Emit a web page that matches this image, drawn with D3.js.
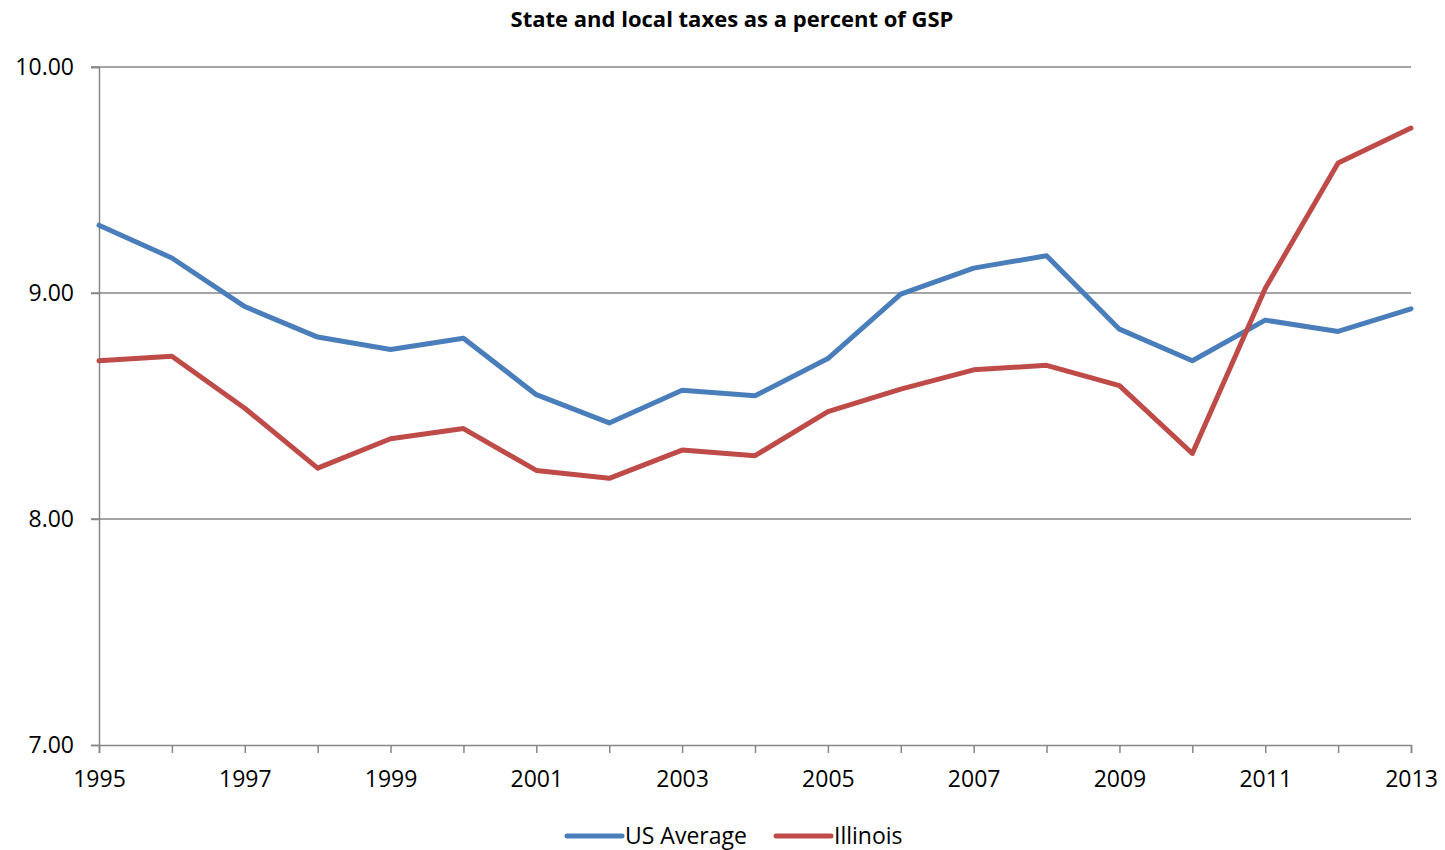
<!DOCTYPE html>
<html>
<head>
<meta charset="utf-8">
<title>State and local taxes as a percent of GSP</title>
<script src="https://d3js.org/d3.v7.min.js"></script>
<style>
  body { margin: 0; background: #fff; }
  text { font-family: "Open Sans", Lato, sans-serif; fill: #000; }
</style>
</head>
<body>
<div id="chart"></div>
<script>
// data
const years = d3.range(1995, 2014);
const usAverage = [9.30, 9.155, 8.94, 8.805, 8.75, 8.80, 8.55, 8.425, 8.57, 8.545,
                   8.71, 8.995, 9.11, 9.165, 8.84, 8.70, 8.88, 8.83, 8.93];
const illinois = [8.70, 8.72, 8.49, 8.225, 8.355, 8.40, 8.215, 8.18, 8.305, 8.28,
                  8.475, 8.575, 8.66, 8.68, 8.59, 8.29, 9.02, 9.575, 9.73];
const yTicks = [7, 8, 9, 10];
const xLabels = d3.range(1995, 2014, 2);

const series = [
  { name: "US Average", values: usAverage, color: "#4A7EBB" },
  { name: "Illinois", values: illinois, color: "#BE4B48" }
];

const width = 1445, height = 850;
const margin = { top: 67, right: 34, bottom: 105, left: 99 };

const svg = d3.select("#chart").append("svg")
  .attr("width", width)
  .attr("height", height);

const x = d3.scaleLinear()
  .domain([1995, 2013])
  .range([margin.left, width - margin.right]);

const y = d3.scaleLinear()
  .domain([7, 10])
  .range([height - margin.bottom, margin.top]);

// title
svg.append("text")
  .attr("x", 732)
  .attr("y", 27)
  .attr("text-anchor", "middle")
  .style("font-size", "22px")
  .style("font-weight", "bold")
  .text("State and local taxes as a percent of GSP");

// gridlines
svg.append("g")
  .selectAll("line")
  .data(yTicks.slice(1))
  .join("line")
  .attr("x1", margin.left - 8)
  .attr("x2", width - margin.right)
  .attr("y1", d => y(d))
  .attr("y2", d => y(d))
  .attr("stroke", "#868686")
  .attr("stroke-width", 1.3);

// y axis
const yAxis = svg.append("g")
  .attr("transform", `translate(${margin.left},0)`)
  .call(d3.axisLeft(y).tickValues(yTicks).tickFormat(d3.format(".2f")).tickSize(8).tickPadding(17));

// x axis
const xAxis = svg.append("g")
  .attr("transform", `translate(0,${height - margin.bottom})`)
  .call(d3.axisBottom(x).tickValues(years).tickFormat(d => xLabels.includes(d) ? d : "").tickSize(8).tickPadding(18));

[yAxis, xAxis].forEach(g => {
  g.select(".domain").attr("stroke", "#868686").attr("stroke-width", 1.5);
  g.selectAll(".tick line").attr("stroke", "#868686").attr("stroke-width", 1.5);
  g.selectAll(".tick text").style("font-size", "23px").attr("fill", "#000");
});

// lines
const line = d3.line()
  .x((d, i) => x(years[i]))
  .y(d => y(d));

svg.append("g")
  .selectAll("path")
  .data(series)
  .join("path")
  .attr("d", d => line(d.values))
  .attr("fill", "none")
  .attr("stroke", d => d.color)
  .attr("stroke-width", 5)
  .attr("stroke-linejoin", "round")
  .attr("stroke-linecap", "round");

// legend
const legendPos = [567, 776];
const legend = svg.append("g")
  .selectAll("g")
  .data(series)
  .join("g")
  .attr("transform", (d, i) => `translate(${legendPos[i]},836)`);

legend.append("line")
  .attr("x1", 0)
  .attr("x2", 55)
  .attr("stroke", d => d.color)
  .attr("stroke-width", 5)
  .attr("stroke-linecap", "round");

legend.append("text")
  .attr("x", 58)
  .attr("dy", "0.36em")
  .style("font-size", "23px")
  .text(d => d.name);
</script>
</body>
</html>
